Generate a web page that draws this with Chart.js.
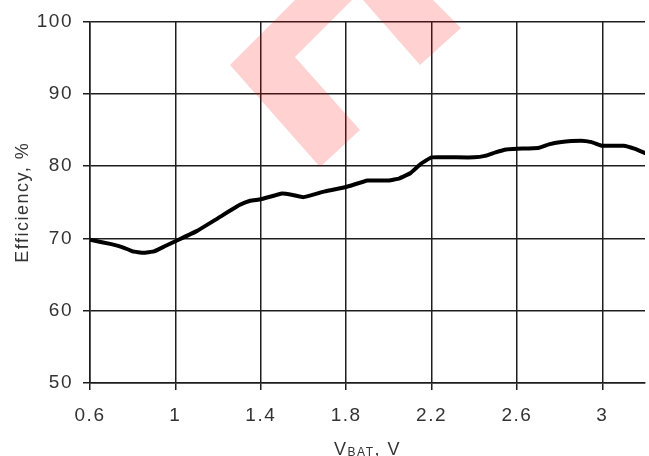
<!DOCTYPE html>
<html>
<head>
<meta charset="utf-8">
<title>Efficiency vs VBAT</title>
<script src="https://cdn.jsdelivr.net/npm/chart.js@4/dist/chart.umd.min.js"></script>
<style>
  html, body { margin: 0; padding: 0; background: #ffffff; }
  canvas { display: block; }
</style>
</head>
<body>
<canvas id="chartEff" width="649" height="456"></canvas>
<script>
// ── data ──
const vbat = [0.6, 0.7, 0.75, 0.8, 0.85, 0.9, 0.95, 1.0, 1.1, 1.2, 1.3, 1.35, 1.4, 1.5, 1.55, 1.6,
  1.7, 1.8, 1.9, 2.0, 2.05, 2.1, 2.15, 2.2, 2.3, 2.4, 2.45, 2.5, 2.55, 2.6, 2.7, 2.75, 2.8, 2.9,
  2.95, 3.0, 3.1, 3.15, 3.2];
const efficiency = [69.8, 69.2, 68.8, 68.2, 68.0, 68.2, 68.9, 69.6, 71.0, 72.8, 74.6, 75.2, 75.4, 76.2, 76.0, 75.7,
  76.5, 77.1, 78.0, 78.0, 78.3, 79.0, 80.3, 81.2, 81.2, 81.2, 81.4, 81.9, 82.3, 82.4, 82.5, 83.0, 83.3, 83.5,
  83.3, 82.8, 82.8, 82.4, 81.8];
const xTicks = [0.6, 1, 1.4, 1.8, 2.2, 2.6, 3];
const yTicks = [50, 60, 70, 80, 90, 100];

const inkColor  = '#333333';
const gridColor = '#1e1e1e';
const fontFamily = "'Liberation Sans', Arial, sans-serif";

// axis titles + the pale red overlay shape
const decorPlugin = {
  id: 'decor',
  beforeDraw(chart) {
    chart.ctx.letterSpacing = '1.5px';
  },
  afterDraw(chart) {
    const ctx = chart.ctx;
    const area = chart.chartArea;
    ctx.save();
    ctx.fillStyle = inkColor;
    ctx.letterSpacing = '1.5px';

    // y title, rotated
    ctx.font = '18px ' + fontFamily;
    ctx.translate(28, (area.top + area.bottom) / 2);
    ctx.rotate(-Math.PI / 2);
    ctx.textAlign = 'center';
    ctx.textBaseline = 'alphabetic';
    ctx.fillText('Efficiency, %', 0, 0);
    ctx.setTransform(1, 0, 0, 1, 0, 0);

    // x title: V with subscript BAT
    const big = '18px ' + fontFamily;
    const small = '12px ' + fontFamily;
    ctx.textAlign = 'left';
    ctx.font = big;  const w1 = ctx.measureText('V').width;
    ctx.font = small; const w2 = ctx.measureText('BAT').width;
    ctx.font = big;  const w3 = ctx.measureText(', V').width;
    let x = (area.left + area.right) / 2 - (w1 + w2 + w3) / 2;
    const base = 455;
    ctx.font = big;   ctx.fillText('V', x, base); x += w1;
    ctx.font = small; ctx.fillText('BAT', x, base + 1); x += w2;
    ctx.font = big;   ctx.fillText(', V', x, base);

    // translucent red chevron over the plot
    ctx.fillStyle = 'rgba(255, 0, 0, 0.18)';
    ctx.beginPath();
    ctx.moveTo(230, 65); ctx.lineTo(295, 0); ctx.lineTo(352, 0); ctx.lineTo(295, 57);
    ctx.lineTo(360, 130); ctx.lineTo(320, 167); ctx.closePath();
    ctx.fill();
    ctx.beginPath();
    ctx.moveTo(363, 0); ctx.lineTo(433, 0); ctx.lineTo(461, 28); ctx.lineTo(420, 65);
    ctx.closePath();
    ctx.fill();
    ctx.restore();
  }
};

new Chart(document.getElementById('chartEff'), {
  type: 'line',
  data: {
    datasets: [{
      data: vbat.map((v, i) => ({ x: v, y: efficiency[i] })),
      borderColor: '#000000',
      borderWidth: 4,
      pointRadius: 0,
      tension: 0.1,
      borderJoinStyle: 'round',
      borderCapStyle: 'round'
    }]
  },
  options: {
    responsive: false,
    animation: false,
    layout: { padding: { top: 20, right: 4, left: 0, bottom: 0 } },
    plugins: { legend: { display: false }, tooltip: { enabled: false } },
    scales: {
      x: {
        type: 'linear',
        min: 0.6,
        max: 3.2,
        afterBuildTicks: s => { s.ticks = xTicks.map(v => ({ value: v })); },
        afterFit: s => { s.height = 73; },
        grid: { color: gridColor, lineWidth: 1.5, tickLength: 7, tickColor: gridColor },
        border: { color: gridColor, width: 1.5 },
        ticks: {
          color: inkColor,
          font: { size: 19, family: fontFamily },
          padding: 14,
          maxRotation: 0,
          callback: v => String(v)
        }
      },
      y: {
        min: 50,
        max: 100,
        afterBuildTicks: s => { s.ticks = yTicks.map(v => ({ value: v })); },
        afterFit: s => { s.width = 90; },
        grid: { color: gridColor, lineWidth: 1.5, tickLength: 7, tickColor: gridColor },
        border: { color: gridColor, width: 1.5 },
        ticks: { color: inkColor, font: { size: 19, family: fontFamily }, padding: 10 }
      }
    }
  },
  plugins: [decorPlugin]
});
</script>
</body>
</html>
